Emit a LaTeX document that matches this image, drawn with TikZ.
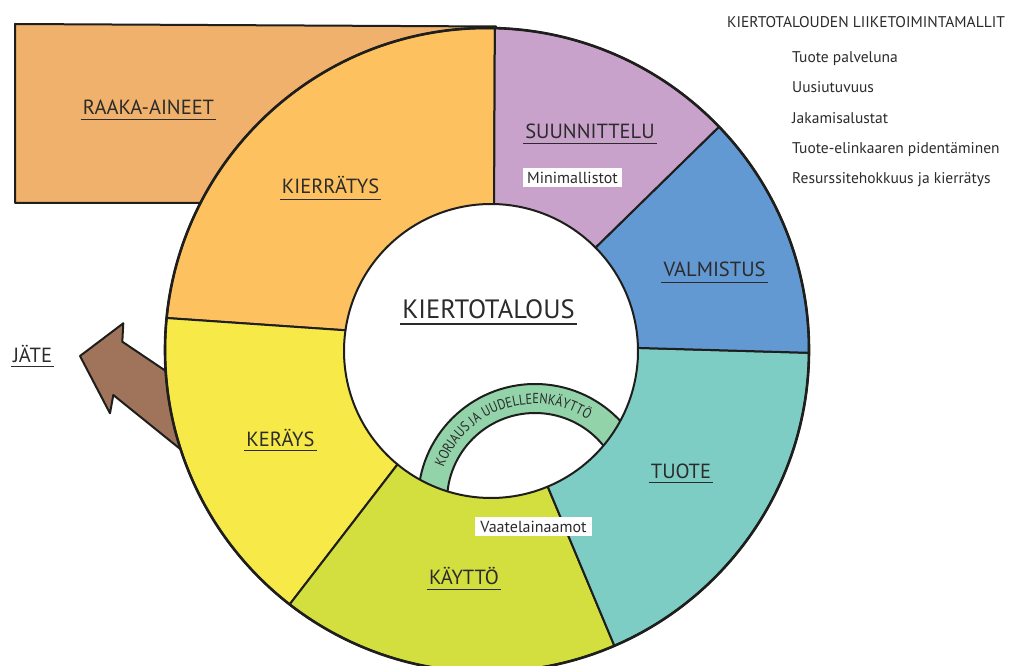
\documentclass[tikz,border=0pt]{standalone}
\usepackage{fontspec}
\setmainfont{PT Sans}
\newfontfamily\bandfont[FakeStretch=0.85]{PT Sans}
\usetikzlibrary{calc,decorations.text}
\definecolor{lineC}{HTML}{1E1E1C}
\definecolor{txtC}{HTML}{2B2B2B}
\definecolor{raakaC}{HTML}{EFB16B}
\definecolor{kierC}{HTML}{FDC160}
\definecolor{suunC}{HTML}{C9A2CB}
\definecolor{valmC}{HTML}{6399D2}
\definecolor{tuoteC}{HTML}{7ECDC5}
\definecolor{kayttoC}{HTML}{D3DF3F}
\definecolor{keraysC}{HTML}{F7E948}
\definecolor{bandC}{HTML}{92D3A9}
\definecolor{arrowC}{HTML}{A0735B}
\newcommand\ringseg[5]{%
  \draw[seg, fill=#1] ($(O)+(#2:322pt)$) arc[start angle=#2, end angle=#3, radius=322pt]
    -- ($(I)+(#5:147pt)$) arc[start angle=#5, end angle=#4, radius=147pt] -- cycle;}
\begin{document}
\begin{tikzpicture}[x=1pt,y=1pt, line join=round,
  seg/.style={draw=lineC, line width=2pt},
  lbl/.style={anchor=base, inner xsep=2pt, inner ysep=0pt, text=txtC, font=\fontsize{20.5}{24}\selectfont},
  ul/.style={draw=txtC, line width=1.3pt},
  tag/.style={fill=white, text=txtC, font=\fontsize{16}{18}\selectfont, minimum height=19pt, inner sep=0pt},
  side/.style={anchor=base west, inner sep=0pt, text=txtC, font=\fontsize{15.5}{18}\selectfont}]
\useasboundingbox (0,0) rectangle (1009,665);
\fill[white] (0,0) rectangle (1009,665);

\coordinate (O) at (487,315);
\coordinate (I) at (491,314);
\coordinate (B) at (535,164);

% raw materials box
\draw[seg, fill=raakaC] (15,641) -- (496,638.5) -- (496,462) -- (15,462) -- cycle;
% waste arrow
\draw[seg, fill=arrowC] (80,309) -- (123.3,341.7) -- (122.3,323.3) -- (200,271) -- (210,192) -- (113.3,270) -- (110,251.7) -- cycle;
% repair band
\fill[bandC, even odd rule] (B) circle[radius=117pt] (B) circle[radius=88pt];
\draw[seg] (B) circle[radius=117pt] (B) circle[radius=88pt];
\path[decorate, decoration={text along path, text color=txtC,
   text={|\bandfont\fontsize{14.5}{16}\selectfont|KORJAUS JA UUDELLEENKÄYTTÖ}, text align=center}]
   ($(B)+(168:97pt)$) arc[start angle=168, end angle=49, radius=97pt];

% ring segments
\ringseg{kierC}{88.6}{174.3}{88.8}{171.9}
\ringseg{keraysC}{174.3}{232.2}{171.9}{230.5}
\ringseg{kayttoC}{232.2}{293.3}{230.5}{292.7}
\ringseg{tuoteC}{293.3}{359.5}{292.7}{361.2}
\ringseg{valmC}{-0.5}{43.9}{1.2}{44.7}
\ringseg{suunC}{43.9}{88.6}{44.7}{88.8}
\draw[draw=lineC, line width=2.6pt] (O) circle[radius=322pt];

% labels
\node[lbl] (raaka) at (148.5,550) {RAAKA-AINEET};
\draw[ul] ([yshift=-4pt]raaka.south west) -- ([yshift=-4pt]raaka.south east);
\node[lbl] (kier) at (330.5,471) {KIERRÄTYS};
\draw[ul] ([yshift=-5pt]kier.south west) -- ([yshift=-5pt]kier.south east);
\node[lbl] (suun) at (590,526) {SUUNNITTELU};
\draw[ul] ([yshift=-4pt]suun.south west) -- ([yshift=-4pt]suun.south east);
\node[lbl] (valm) at (714.5,388) {VALMISTUS};
\draw[ul] ([yshift=-5pt]valm.south west) -- ([yshift=-5pt]valm.south east);
\node[lbl, font=\fontsize{26.5}{30}\selectfont] (kt) at (488.5,347) {KIERTOTALOUS};
\draw[ul, line width=1.6pt] ([yshift=-5.5pt]kt.south west) -- ([yshift=-5.5pt]kt.south east);
\node[lbl] (jate) at (32.5,303) {JÄTE};
\draw[ul] ([yshift=-4pt]jate.south west) -- ([yshift=-4pt]jate.south east);
\node[lbl] (keray) at (280.5,219) {KERÄYS};
\draw[ul] ([yshift=-4pt]keray.south west) -- ([yshift=-4pt]keray.south east);
\node[lbl] (tuote) at (681,187) {TUOTE};
\draw[ul] ([yshift=-4pt]tuote.south west) -- ([yshift=-4pt]tuote.south east);
\node[lbl] (kaytto) at (464,81) {KÄYTTÖ};
\draw[ul] ([yshift=-5pt]kaytto.south west) -- ([yshift=-5pt]kaytto.south east);

\node[tag, minimum width=99pt] (mini) at (572.5,487.5) {Minimallistot};
\node[tag, minimum width=117pt] (vaate) at (533.5,138.5) {Vaatelainaamot};

% business models list
\node[side] (title) at (727,637) {KIERTOTALOUDEN LIIKETOIMINTAMALLIT};
\node[side] (m1) at (792,602) {Tuote palveluna};
\node[side] (m2) at (792,572) {Uusiutuvuus};
\node[side] (m3) at (792,541.5) {Jakamisalustat};
\node[side] (m4) at (792,511) {Tuote-elinkaaren pidentäminen};
\node[side] (m5) at (792,481) {Resurssitehokkuus ja kierrätys};
\end{tikzpicture}
\end{document}
